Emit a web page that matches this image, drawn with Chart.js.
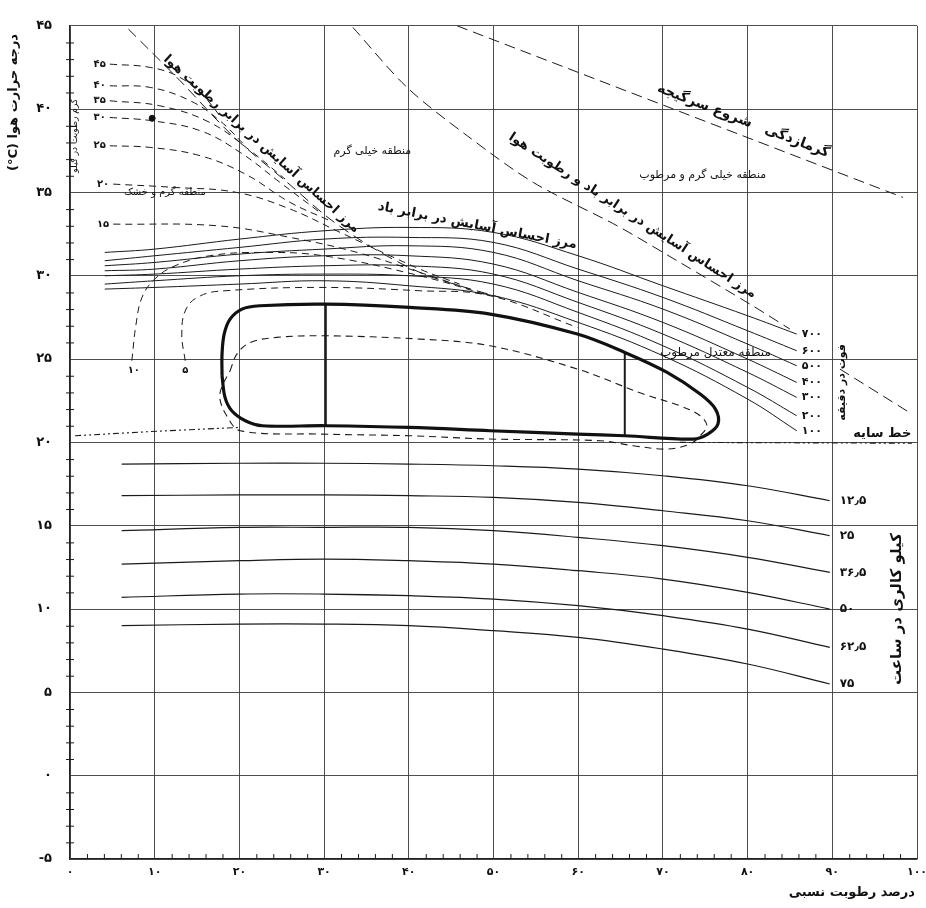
<!DOCTYPE html>
<html lang="fa">
<head>
<meta charset="utf-8">
<title>Bioclimatic chart</title>
<script src="https://cdn.jsdelivr.net/npm/chart.js@4.4.1/dist/chart.umd.min.js"></script>
<style>
html,body{margin:0;padding:0;background:#fff;}
canvas{display:block;}
</style>
</head>
<body>
<canvas id="chart" width="926" height="908"></canvas>
<script>
// ---------- tick labels ----------
const xTickLabels = ['۰','۱۰','۲۰','۳۰','۴۰','۵۰','۶۰','۷۰','۸۰','۹۰','۱۰۰'];
const yTickLabels = ['-۵','۰','۵','۱۰','۱۵','۲۰','۲۵','۳۰','۳۵','۴۰','۴۵'];

// ---------- comfort zone (thick outline) ----------
const comfortX = [17.95, 17.95, 18.2, 18.9, 20.3, 22.4, 30.2, 40.1, 49.6, 59.9, 65.5, 70.5, 74.4, 76.2, 76.5, 75.3, 73.6, 65.5, 59.9, 49.6, 40.1, 30.2, 22.7, 20.7, 19.1, 18.3, 17.95];
const comfortY = [24.0, 25.3, 26.5, 27.4, 28.0, 28.2, 28.3, 28.1, 27.7, 26.5, 25.4, 24.2, 22.9, 22.0, 21.1, 20.5, 20.2, 20.4, 20.5, 20.7, 20.9, 21.0, 21.0, 21.3, 21.9, 22.7, 24.0];
const divider1X = [30.2, 30.2];  const divider1Y = [21.0, 28.3];
const divider2X = [65.5, 65.5];  const divider2Y = [20.4, 25.4];

// ---------- dashed inner (winter) zone ----------
const winterX = [18.9, 19.7, 21.3, 24.4, 29.9, 41.3, 49.6, 59.9, 67.7, 72.0, 74.4, 75.2, 74.4, 73.2, 70.5, 66.5, 62.6, 49.6, 40.1, 29.5, 20.1, 18.5, 17.7, 17.9, 18.9];
const winterY = [24.3, 25.3, 26.0, 26.3, 26.4, 26.2, 25.8, 24.4, 22.9, 22.2, 21.6, 21.0, 20.4, 19.9, 19.6, 19.8, 20.1, 20.2, 20.4, 20.5, 20.7, 21.6, 22.6, 23.3, 24.3];

// ---------- shading line ----------
const shadeX = [0.6, 9.5, 20.1, 46.0, 72.0, 99.4];
const shadeY = [20.4, 20.65, 20.9, null, 20.0, 19.95];

// ---------- wind lines (feet per minute) ----------
const windX = [4.1, 10, 20, 30, 40, 50, 60, 70, 80, 85.8];
const wind700 = [31.4, 31.6, 32.2, 32.7, 32.9, 32.6, 31.2, 29.4, 27.6, 26.5];
const wind600 = [30.9, 31.2, 31.7, 32.2, 32.3, 32.0, 30.4, 28.7, 26.7, 25.5];
const wind500 = [30.6, 30.8, 31.3, 31.6, 31.8, 31.4, 29.7, 28.0, 25.9, 24.6];
const wind400 = [30.3, 30.4, 30.9, 31.2, 31.2, 30.7, 29.0, 27.2, 25.0, 23.6];
const wind300 = [30.0, 30.1, 30.4, 30.6, 30.6, 30.1, 28.4, 26.5, 24.2, 22.7];
const wind200 = [29.5, 29.7, 30.0, 30.1, 30.0, 29.5, 27.8, 25.8, 23.3, 21.6];
const wind100 = [29.2, 29.3, 29.5, 29.7, 29.4, 28.8, 27.2, 25.2, 22.6, 20.7];
const windLabels = ['۷۰۰','۶۰۰','۵۰۰','۴۰۰','۳۰۰','۲۰۰','۱۰۰'];

// ---------- solar radiation lines (kcal per hour) ----------
const solarX = [6.1, 20, 30, 40, 50, 60, 70, 80, 89.7];
const solar12 = [18.7, 18.75, 18.75, 18.7, 18.6, 18.4, 18.0, 17.4, 16.5];
const solar25 = [16.8, 16.85, 16.85, 16.8, 16.7, 16.4, 15.9, 15.3, 14.4];
const solar37 = [14.7, 14.9, 14.9, 14.9, 14.7, 14.3, 13.8, 13.1, 12.2];
const solar50 = [12.7, 12.9, 13.0, 12.9, 12.7, 12.3, 11.8, 11.0, 10.0];
const solar62 = [10.7, 10.9, 10.9, 10.8, 10.6, 10.2, 9.6, 8.8, 7.7];
const solar75 = [9.0, 9.1, 9.1, 9.0, 8.7, 8.3, 7.6, 6.7, 5.5];
const solarLabels = ['۱۲٫۵','۲۵','۳۶٫۵','۵۰','۶۲٫۵','۷۵'];

// ---------- moisture lines (dashed) ----------
const m45X = [4.7, 9.5, 13.0, 15.9, 17.7];          const m45Y = [42.7, 42.5, 41.9, 40.7, 39.6];
const m40X = [4.7, 9.5, 14.2, 17.7, 20.7];          const m40Y = [41.4, 41.3, 40.5, 39.3, 37.8];
const m35X = [4.7, 10.6, 16.5, 21.3, 25.4];         const m35Y = [40.5, 40.2, 39.2, 37.5, 35.8];
const m30X = [4.7, 9.7, 15.4, 20.1, 24.8, 29.5];    const m30Y = [39.5, 39.3, 38.7, 37.4, 35.6, 33.8];
const m25X = [4.7, 9.5, 15.4, 20.7, 26.0, 30.7];    const m25Y = [37.8, 37.7, 37.2, 36.1, 34.4, 33.3];
const m20X = [5.1, 12.4, 19.7, 26.0, 31.9, 41.3, 46.0]; const m20Y = [35.5, 35.3, 35.0, 34.0, 32.6, 30.4, 29.5];
const m15X = [5.1, 17.4, 26.0, 33.9, 41.3, 47.2];   const m15Y = [33.1, 33.0, 32.3, 31.4, 30.2, 29.2];
const m10X = [7.3, 7.8, 8.5, 10.0, 12.4, 16.5, 22.4, 29.9, 41.3, 49.6];
const m10Y = [24.9, 27.1, 28.7, 29.8, 30.6, 31.2, 31.4, 31.2, 30.0, 28.8];
const m5X = [13.6, 13.2, 13.7, 15.4, 18.3, 29.5, 41.3, 49.6, 59.9];
const m5Y = [24.9, 26.5, 28.0, 28.8, 29.1, 29.3, 29.1, 28.8, 26.9];
const moistureLabels = ['۴۵','۴۰','۳۵','۳۰','۲۵','۲۰','۱۵'];
const markerX = [9.7]; const markerY = [39.45];

// ---------- boundary lines ----------
const humidX = [6.9, 13.0, 19.2, 26.0, 30.7, 36.0, 41.3, 46.0, 50.8];
const humidY = [44.8, 41.7, 38.4, 35.45, 33.4, 31.6, 30.2, 29.4, 28.7];
const windHumX = [33.4, 39.8, 46.9, 54.7, 64.6, 72.0, 80.6, 85.0, 87.5, 90.9, 99.4];
const windHumY = [44.9, 41.3, 38.4, 35.6, 33.0, 30.8, 28.2, 26.8, null, 24.4, 21.7];
const heatX = [45.7, 98.35];
const heatY = [45.0, 34.7];

// ---------- helpers ----------
const pts = (xs, ys) => xs.map((x, i) => ({x: x, y: ys[i]}));
const INK = '#1b1b1b';
function ln(xs, ys, opt) {
  return Object.assign({
    data: pts(xs, ys), showLine: true, pointRadius: 0, borderColor: INK,
    borderWidth: 1, tension: 0.4, fill: false, spanGaps: false
  }, opt || {});
}
const DASH = [7, 5];
const LONGDASH = [11, 6];

const datasets = [
  ln(comfortX, comfortY, {borderWidth: 3.2, borderColor: '#111', tension: 0.35, label: 'comfort'}),
  ln(divider1X, divider1Y, {borderWidth: 2, tension: 0}),
  ln(divider2X, divider2Y, {borderWidth: 2, tension: 0}),
  ln(winterX, winterY, {borderDash: DASH, borderWidth: 1.1, tension: 0.35}),
  ln(shadeX, shadeY, {borderDash: [6, 3, 2, 3, 2, 3], borderWidth: 1.1, tension: 0}),
  ln(windX, wind700), ln(windX, wind600), ln(windX, wind500), ln(windX, wind400),
  ln(windX, wind300), ln(windX, wind200), ln(windX, wind100),
  ln(solarX, solar12, {borderWidth: 1.2}), ln(solarX, solar25, {borderWidth: 1.2}), ln(solarX, solar37, {borderWidth: 1.2}),
  ln(solarX, solar50, {borderWidth: 1.2}), ln(solarX, solar62, {borderWidth: 1.2}), ln(solarX, solar75, {borderWidth: 1.2}),
  ln(m45X, m45Y, {borderDash: DASH}), ln(m40X, m40Y, {borderDash: DASH}), ln(m35X, m35Y, {borderDash: DASH}),
  ln(m30X, m30Y, {borderDash: DASH}), ln(m25X, m25Y, {borderDash: DASH}), ln(m20X, m20Y, {borderDash: DASH}),
  ln(m15X, m15Y, {borderDash: DASH}), ln(m10X, m10Y, {borderDash: DASH}), ln(m5X, m5Y, {borderDash: DASH}),
  ln(humidX, humidY, {borderDash: LONGDASH, tension: 0.3}),
  ln(windHumX, windHumY, {borderDash: LONGDASH, tension: 0.3}),
  ln(heatX, heatY, {borderDash: LONGDASH, tension: 0}),
  {data: pts(markerX, markerY), showLine: false, pointRadius: 3, pointBackgroundColor: '#111', pointBorderColor: '#111'}
];

const windSeries = [wind700, wind600, wind500, wind400, wind300, wind200, wind100];
const solarSeries = [solar12, solar25, solar37, solar50, solar62, solar75];
const moistureStarts = [[m45X, m45Y], [m40X, m40Y], [m35X, m35Y], [m30X, m30Y], [m25X, m25Y], [m20X, m20Y], [m15X, m15Y]];

const notes = [
  {text: 'منطقه خیلی گرم', x: 35.7, y: 37.5, size: 11, weight: 'normal', angle: 0},
  {text: 'منطقه گرم و خشک', x: 11.2, y: 35.0, size: 10, weight: 'normal', angle: 0},
  {text: 'منطقه خیلی گرم و مرطوب', x: 74.7, y: 36.05, size: 11, weight: 'normal', angle: 0},
  {text: 'منطقه معتدل مرطوب', x: 76.2, y: 25.35, size: 12, weight: 'normal', angle: 0},
  {text: 'خط سایه', x: 95.9, y: 20.5, size: 13, weight: 'bold', angle: 0},
  {text: 'گرمازدگی   شروع سرگیجه', x: 79.5, y: 39.3, size: 14, weight: 'bold', angle: 21},
  {text: 'مرز احساس آسایش در برابر رطوبت هوا', x: 22.6, y: 37.9, size: 13, weight: 'bold', angle: 42},
  {text: 'مرز احساس آسایش در برابر باد', x: 48.1, y: 33.0, size: 13, weight: 'bold', angle: 11},
  {text: 'مرز احساس آسایش در برابر باد و رطوبت هوا', x: 66.4, y: 33.6, size: 13, weight: 'bold', angle: 33}
];

const FONT = '"DejaVu Sans", sans-serif';

function drawText(ctx, text, px, py, size, weight, angle, align, dir) {
  ctx.save();
  ctx.translate(px, py);
  ctx.rotate((angle || 0) * Math.PI / 180);
  ctx.font = (weight || 'normal') + ' ' + size + 'px ' + FONT;
  ctx.textAlign = align || 'center';
  ctx.textBaseline = 'middle';
  ctx.direction = dir || 'rtl';
  ctx.fillStyle = '#111';
  ctx.fillText(text, 0, 0);
  ctx.restore();
}

const decorPlugin = {
  id: 'decor',
  beforeDraw(chart) {
    const ctx = chart.ctx;
    ctx.save();
    ctx.fillStyle = '#fff';
    ctx.fillRect(0, 0, chart.width, chart.height);
    ctx.restore();
  },
  afterDatasetsDraw(chart) {
    const ctx = chart.ctx;
    const xs = chart.scales.x, ys = chart.scales.y;
    const X = v => xs.getPixelForValue(v), Y = v => ys.getPixelForValue(v);
    ctx.save();
    // minor ticks
    ctx.strokeStyle = INK; ctx.lineWidth = 1;
    for (let v = 2; v < 100; v += 2) {
      if (v % 10 === 0) continue;
      ctx.beginPath(); ctx.moveTo(X(v) + 0.5, ys.bottom); ctx.lineTo(X(v) + 0.5, ys.bottom - 5); ctx.stroke();
    }
    for (let v = -4; v < 45; v += 1) {
      if (v % 5 === 0) continue;
      ctx.beginPath(); ctx.moveTo(xs.left - 4, Y(v) + 0.5); ctx.lineTo(xs.left + 4, Y(v) + 0.5); ctx.stroke();
    }
    // wind labels
    windSeries.forEach((s, i) => {
      drawText(ctx, windLabels[i], X(windX[windX.length - 1]) + 5, Y(s[s.length - 1]), 11, 'bold', 0, 'left', 'ltr');
    });
    // solar labels
    solarSeries.forEach((s, i) => {
      drawText(ctx, solarLabels[i], X(solarX[solarX.length - 1]) + 10, Y(s[s.length - 1]), 12, 'bold', 0, 'left', 'ltr');
    });
    // moisture labels
    moistureStarts.forEach((m, i) => {
      drawText(ctx, moistureLabels[i], X(m[0][0]) - 4, Y(m[1][0]), 10, 'bold', 0, 'right', 'ltr');
    });
    drawText(ctx, '۱۰', X(m10X[0]) + 2, Y(m10Y[0]) + 10, 10, 'bold', 0, 'center', 'ltr');
    drawText(ctx, '۵', X(m5X[0]), Y(m5Y[0]) + 10, 10, 'bold', 0, 'center', 'ltr');
    // annotations
    notes.forEach(n => drawText(ctx, n.text, X(n.x), Y(n.y), n.size, n.weight, n.angle, 'center', 'rtl'));
    // axis / group titles
    const L = chart.chartArea.left, B = chart.chartArea.bottom, R = chart.chartArea.right;
    drawText(ctx, 'درجه حرارت هوا (C°)', L - 56, Y(40.4), 13, 'bold', -90, 'center', 'rtl');
    drawText(ctx, 'گرم رطوبت در کیلو', L + 5, Y(38.4), 9, 'normal', -90, 'center', 'rtl');
    drawText(ctx, 'درصد رطوبت نسبی', R - 2, B + 34, 13, 'bold', 0, 'right', 'rtl');
    drawText(ctx, 'فوت در دقیقه', X(91.2), Y(23.6), 11, 'bold', -90, 'center', 'rtl');
    drawText(ctx, 'کیلو کالری در ساعت', X(97.6), Y(10.0), 15, 'bold', -90, 'center', 'rtl');
    ctx.restore();
  }
};

new Chart(document.getElementById('chart'), {
  type: 'scatter',
  data: {datasets: datasets},
  options: {
    responsive: false,
    animation: false,
    devicePixelRatio: 1,
    layout: {padding: {top: 20, right: 9, left: 0, bottom: 0}},
    plugins: {legend: {display: false}, tooltip: {enabled: false}},
    scales: {
      x: {
        type: 'linear', min: 0, max: 100,
        afterFit(s) { s.height = 49; s.paddingLeft = 0; s.paddingRight = 0; },
        ticks: {stepSize: 10, padding: 7, color: '#111', maxRotation: 0,
          font: {family: FONT, size: 11, weight: 'bold'},
          callback: (v, i) => xTickLabels[i]},
        grid: {color: '#3a3a3a', lineWidth: 0.9, drawTicks: false},
        border: {color: '#222', width: 1.3}
      },
      y: {
        type: 'linear', min: -5, max: 45,
        afterFit(s) { s.width = 70; },
        ticks: {stepSize: 5, padding: 18, color: '#111',
          font: {family: FONT, size: 13, weight: 'bold'},
          callback: (v, i) => yTickLabels[i]},
        grid: {color: '#3a3a3a', lineWidth: 0.9, drawTicks: false},
        border: {color: '#222', width: 1.3}
      }
    }
  },
  plugins: [decorPlugin]
});
</script>
</body>
</html>
